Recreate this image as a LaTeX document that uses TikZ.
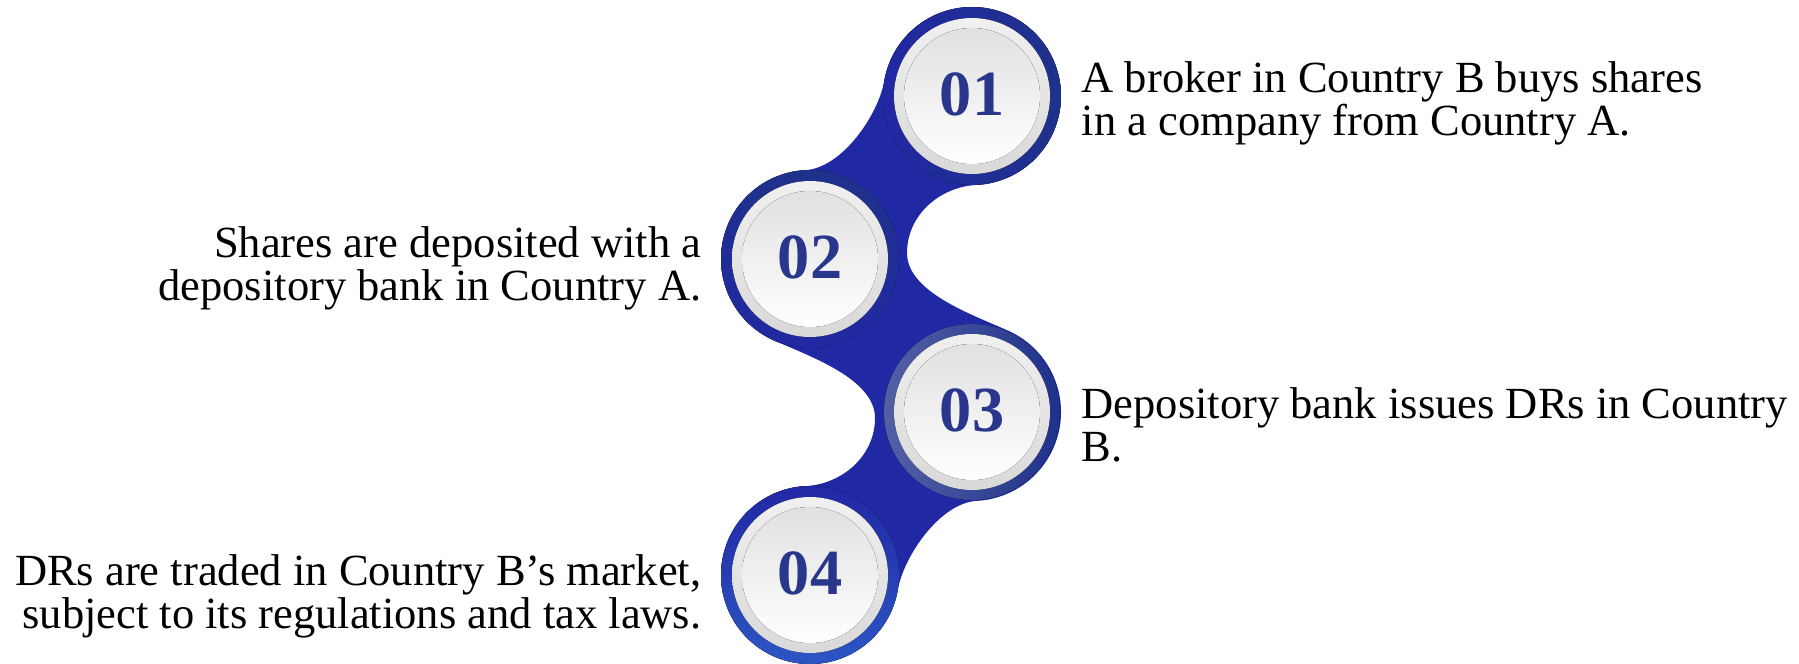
\documentclass[tikz,border=0pt]{standalone}
\usepackage{fontspec}
\setmainfont{Liberation Serif}
\definecolor{blobblue}{RGB}{33,40,163}
\definecolor{ringnavy}{RGB}{31,50,138}
\definecolor{ringlight}{RGB}{44,86,196}
\definecolor{ringgrey}{RGB}{82,96,165}
\definecolor{numblue}{RGB}{40,55,140}
\tikzset{
  txt/.style={font=\fontsize{12.66}{12.2}\selectfont, inner sep=0pt},
  num/.style={font=\fontsize{18.3}{18.3}\selectfont\bfseries, text=numblue, inner sep=0pt},
  bluering/.style={top color=ringnavy, bottom color=blobblue},
  greyrim/.style={top color=gray!12, bottom color=gray!30},
  whiteface/.style={top color=gray!24, bottom color=white}
}

\begin{document}
\begin{tikzpicture}[x=0.01cm,y=-0.01cm]
                    \useasboundingbox (0,0) rectangle (1799,663);
                    \fill[white] (0,0) rectangle (1799,663);
                    \coordinate (c1) at (972,96);
                    \coordinate (c2) at (810,259);
                    \coordinate (c3) at (972,412);
                    \coordinate (c4) at (810,575);
                    % blue body round the four discs
                    \fill[blobblue] (884.35,80.55) arc[start angle=190, end angle=447, radius=89]
                        .. controls (939.7,186.8) and (907,215) .. (907,253)
                        .. controls (907,292) and (971.7,314.4) .. (1008.2,330.7)
                        arc[start angle=294, end angle=447, radius=89]
                        .. controls (940,503) and (903.7,556) .. (897.65,590.45)
                        arc[start angle=10, end angle=267, radius=89]
                        .. controls (842.2,484.2) and (875,456) .. (875,418)
                        .. controls (875,379) and (810.3,356.6) .. (773.8,340.3)
                        arc[start angle=114, end angle=267, radius=89]
                        .. controls (842,168) and (878.3,115) .. cycle;
                    \fill[left color=blobblue, right color=ringnavy] (c1) circle[radius=89];
                    \fill[bluering] (c2) circle[radius=89];
                    \fill[left color=ringgrey, right color=ringnavy] (c3) circle[radius=88];
                    \fill[top color=blobblue, bottom color=ringlight] (c4) circle[radius=89];
                    \foreach \c in {c1,c2,c3,c4}{
                        \fill[greyrim] (\c) circle[radius=78];
                        \fill[whiteface] (\c) circle[radius=68];
                    }
                    \node[num] (n1) at (972,94) {01};
                    \node[num] (n2) at (810,257) {02};
                    \node[num] (n3) at (972,410) {03};
                    \node[num] (n4) at (810,573) {04};
                    \node[txt, anchor=west, align=left] (t1) at (1081,103) {A broker in Country B buys shares\\in a company from Country A.};
                    \node[txt, anchor=east, align=right] (t2) at (702,268) {Shares are deposited with a\\depository bank in Country A.};
                    \node[txt, anchor=west, align=left] (t3) at (1081,425) {Depository bank issues DRs in Country\\B.};
                    \node[txt, anchor=east, align=right] (t4) at (702,596) {DRs are traded in Country B’s market,\\subject to its regulations and tax laws.};
                \end{tikzpicture}
\end{document}
